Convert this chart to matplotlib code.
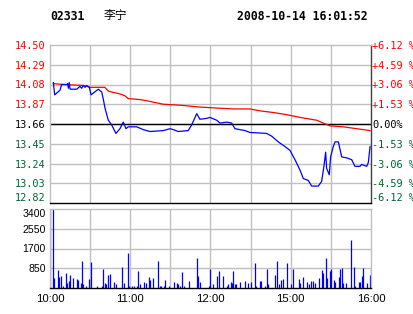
import matplotlib
matplotlib.use("Agg")
import matplotlib.pyplot as plt

# minutes after 10:00 (trading minutes, lunch break removed), 0..240
price_min = [2.5, 3.5, 7.5, 8.7, 12.5, 13.2, 13.7, 14.4, 15, 20, 22.4, 23.7, 24.9, 26.2, 27.4,
             29.4, 30.7, 36.1, 38.7, 39.9, 41.1, 43.6, 46.1, 49.3, 52.3, 54.8, 56.8, 58.5, 64.8,
             69.8, 74.8, 84.7, 89.7, 92.2, 95.9, 103.4, 105.9, 109.7, 112.1, 117.2, 119.6, 124.6,
             127.1, 132.1, 135.8, 138.3, 145.8, 149.5, 162, 165.8, 170.7, 175.7, 179.4, 183.2,
             186.9, 189.4, 193.1, 195.6, 200.6, 203.1, 204.8, 206.1, 206.8, 208.8, 209.8, 211.8,
             213.1, 215.6, 218.1, 221.8, 225.6, 228, 231.8, 233, 236.8, 238, 239.3]
price = [14.10, 13.97, 14.02, 14.08, 14.08, 14.09, 14.04, 14.10, 14.03, 14.03, 14.06, 14.04, 14.07,
         14.05, 14.07, 14.05, 13.97, 14.03, 14.00, 13.92, 13.83, 13.70, 13.65, 13.56, 13.61, 13.68,
         13.61, 13.63, 13.63, 13.60, 13.58, 13.59, 13.61, 13.60, 13.58, 13.59, 13.65, 13.77, 13.71,
         13.72, 13.73, 13.70, 13.67, 13.68, 13.67, 13.61, 13.59, 13.57, 13.56, 13.53, 13.47, 13.42,
         13.38, 13.28, 13.17, 13.08, 13.06, 13.00, 13.00, 13.05, 13.21, 13.36, 13.19, 13.12, 13.31,
         13.42, 13.47, 13.47, 13.31, 13.30, 13.28, 13.21, 13.21, 13.23, 13.21, 13.25, 13.42]

avg_min = [2.5, 10, 25, 30, 41, 43.6, 46.1, 52.3, 56, 58.5, 67.3, 74.8, 84.7, 97.2, 112.1, 124.6,
           137, 149.5, 157, 168, 176.7, 187, 199.4, 204.3, 209.3, 219.3, 229.3, 239.3]
avg_price = [14.09, 14.08, 14.07, 14.05, 14.05, 14.01, 14.00, 13.98, 13.96, 13.93, 13.92, 13.90,
             13.87, 13.86, 13.84, 13.83, 13.82, 13.82, 13.80, 13.78, 13.76, 13.73, 13.70, 13.67,
             13.64, 13.63, 13.61, 13.59]

vol_min = [0, 2, 3, 6, 7, 8, 10, 12, 13, 14, 15, 17, 20, 21, 23, 24, 25, 27, 29, 31, 35, 39, 40, 41,
           42, 43, 45, 48, 49, 54, 55, 58, 59, 61, 63, 65, 66, 67, 70, 72, 74, 75, 77, 81, 82, 83,
           85, 86, 89, 93, 95, 96, 97, 99, 100, 104, 110, 111, 112, 119, 120, 122, 125, 126, 129,
           132, 133, 135, 136, 137, 138, 139, 142, 146, 148, 150, 153, 154, 157, 158, 161, 162,
           163, 168, 170, 171, 173, 174, 177, 180, 182, 186, 187, 189, 192, 194, 195, 197, 198,
           201, 203, 204, 206, 207, 209, 210, 212, 213, 216, 217, 218, 219, 221, 225, 227, 228,
           231, 232, 233, 234, 237, 239, 240]
volume = [3400, 3400, 423, 786, 453, 514, 106, 650, 196, 302, 559, 423, 378, 348, 196, 1148, 151,
          106, 378, 1103, 106, 106, 831, 196, 160, 559, 604, 242, 151, 922, 196, 1511, 106, 106,
          106, 106, 740, 160, 242, 196, 468, 332, 423, 1148, 106, 106, 106, 332, 106, 242, 196,
          151, 106, 695, 106, 287, 1284, 514, 242, 106, 831, 151, 514, 740, 514, 106, 151, 242,
          196, 740, 151, 151, 242, 287, 196, 242, 1058, 106, 287, 287, 106, 831, 151, 559, 1148,
          151, 332, 378, 1058, 151, 831, 378, 196, 468, 242, 151, 287, 287, 196, 423, 786, 650,
          1284, 423, 740, 831, 332, 242, 468, 831, 876, 196, 196, 2055, 922, 106, 242, 242, 514,
          876, 196, 559, 831]

prev_close = 13.66
price_ticks = [14.50, 14.29, 14.08, 13.87, 13.66, 13.45, 13.24, 13.03, 12.82]
pct_labels = ["+6.12 %", "+4.59 %", "+3.06 %", "+1.53 %", "0.00%",
              "-1.53 %", "-3.06 %", "-4.59 %", "-6.12 %"]
vol_ticks = [850, 1700, 2550, 3400]
time_ticks = [0, 60, 120, 180, 240]
time_labels = ["10:00", "11:00", "12:00", "15:00", "16:00"]

RED = "#ff0000"
GREEN = "#006633"
GRID = "#c0c0c0"
MONO = "DejaVu Sans Mono"

W, H = 414, 314
fig = plt.figure(figsize=(W / 100, H / 100), dpi=100)


def box(l, t, r, b):
    return [l / W, (H - b) / H, (r - l) / W, (b - t) / H]


def color_for(p):
    if abs(p - prev_close) < 1e-6:
        return "black"
    return RED if p > prev_close else GREEN


ax = fig.add_axes(box(50, 45, 371, 203))
ax.set_xlim(0, 240)
ax.set_ylim(12.82, 14.50)
for t in range(30, 240, 30):
    ax.axvline(t, color=GRID, lw=1, zorder=0)
for p in price_ticks[1:-1]:
    ax.axhline(p, color=GRID, lw=1, zorder=0)
ax.axhline(prev_close, color="black", lw=1, zorder=1)
ax.plot(avg_min, avg_price, color=RED, lw=0.9, zorder=2)
ax.plot(price_min, price, color="#0000ff", lw=0.9, zorder=3)
ax.set_xticks([])
ax.set_yticks(price_ticks)
ax.set_yticklabels([f"{p:.2f}" for p in price_ticks], family=MONO, fontsize=7.4)
for lab, p in zip(ax.get_yticklabels(), price_ticks):
    lab.set_color(color_for(p))
ax.get_yticklabels()[-1].set_va("bottom")
ax.tick_params(axis="y", length=0, pad=3)
for side in ["left", "top"]:
    ax.spines[side].set_color(GRID)
ax.spines["right"].set_color("#404040")
ax.spines["bottom"].set_color("black")
for s in ax.spines.values():
    s.set_linewidth(1)

ax2 = ax.twinx()
ax2.set_ylim(12.82, 14.50)
ax2.set_yticks(price_ticks)
ax2.set_yticklabels(pct_labels, family=MONO, fontsize=7.4)
for lab, p in zip(ax2.get_yticklabels(), price_ticks):
    lab.set_color(color_for(p))
ax2.get_yticklabels()[-1].set_va("bottom")
ax2.tick_params(axis="y", length=0, pad=1)
for s in ax2.spines.values():
    s.set_visible(False)

vax = fig.add_axes(box(50, 209, 371, 288))
vax.set_xlim(0, 240)
vax.set_ylim(0, 3400)
for t in range(30, 240, 30):
    vax.axvline(t, color=GRID, lw=1, zorder=0)
for v in vol_ticks[:-1]:
    vax.axhline(v, color=GRID, lw=1, zorder=0)
vax.vlines(vol_min, 0, volume, color="#0000ff", lw=0.9, zorder=2)
vax.set_yticks(vol_ticks)
vax.set_yticklabels([str(v) for v in vol_ticks], family="Liberation Sans", fontsize=7.6)
vax.get_yticklabels()[-1].set_va("top")
vax.set_xticks(time_ticks)
vax.set_xticklabels(time_labels, family="Liberation Sans", fontsize=8.2)
vax.tick_params(length=0, pad=3)
vax.tick_params(axis="x", pad=4)
for side in ["left", "top", "right"]:
    vax.spines[side].set_color(GRID)
vax.spines["bottom"].set_color("black")
for s in vax.spines.values():
    s.set_linewidth(1)

fig.text(50 / W, 1 - 17 / H, "02331", family="DejaVu Sans Mono", weight="bold",
         fontsize=8.3, va="center", ha="left")
fig.text(104 / W, 1 - 16 / H, "李宁", family=["Noto Sans CJK SC", "DejaVu Sans"],
         fontsize=8.5, va="center", ha="left")
fig.text(237 / W, 1 - 17 / H, "2008-10-14 16:01:52", family="DejaVu Sans Mono",
         weight="bold", fontsize=8.3, va="center", ha="left")

fig.savefig("out.png", dpi=100)
